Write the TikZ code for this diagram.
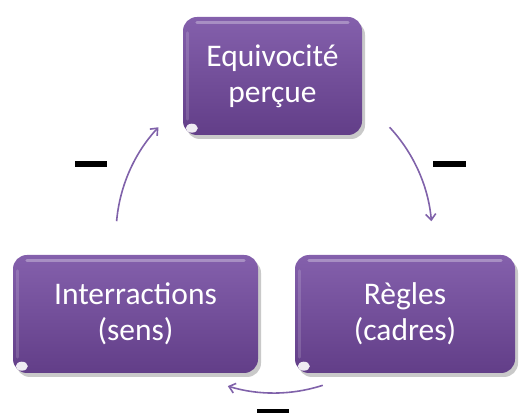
\documentclass[tikz,border=0pt]{standalone}
\usepackage{fontspec}
\setmainfont{Carlito}
\usetikzlibrary{arrows.meta,shadows,calc}
\definecolor{boxtop}{RGB}{132,96,172}
\definecolor{boxbot}{RGB}{98,62,136}
\definecolor{arrowc}{RGB}{128,98,170}
\begin{document}
\begin{tikzpicture}[x=1pt,y=1pt,
  purplebox/.style={rounded corners=14pt, top color=boxtop, bottom color=boxbot,
    draw=none, text=white, align=center, font=\fontsize{31.5}{36}\selectfont, inner sep=0pt,
    drop shadow={shadow xshift=3pt, shadow yshift=-4pt, opacity=0.3, fill=black!70}},
  highlight/.style={draw=white, opacity=0.3, line width=3pt, line cap=round},
  cyclearrow/.style={draw=arrowc, line width=1.6pt, -{Straight Barb[length=6pt,width=10pt]}},
  minusbar/.style={inner sep=0pt, outer sep=0pt}
]
\clip (0,0) rectangle (519,412);
\useasboundingbox (0,0) rectangle (519,412);

\node[purplebox, minimum width=179pt, minimum height=118pt] (eq) at (272.5,336) {Equivocité\\perçue};
\node[purplebox, minimum width=245pt, minimum height=118pt] (inter) at (135.5,98) {Interractions\\(sens)};
\node[purplebox, minimum width=220pt, minimum height=118pt] (regles) at (405,98) {Règles\\(cadres)};

\foreach \b in {eq,inter,regles}{
  \draw[highlight] ([xshift=14pt,yshift=-6pt]\b.north west) -- ([xshift=-14pt,yshift=-6pt]\b.north east);
  \draw[draw=white, opacity=0.15, line width=3pt, line cap=round] ([xshift=5pt,yshift=-16pt]\b.north west) -- ([xshift=5pt,yshift=16pt]\b.south west);
  \fill[white, opacity=0.9] ([xshift=9pt,yshift=7pt]\b.south west) ellipse (6pt and 4.5pt);
}

\coordinate (c) at (274,177);
\coordinate (la) at ($(c)+(175:158)$);
\coordinate (ra) at ($(c)+(43:158)$);
\coordinate (ba) at ($(c)+(-72:158)$);

\draw[cyclearrow] (la) arc[start angle=175, end angle=137, radius=158];
\draw[cyclearrow] (ra) arc[start angle=43, end angle=5, radius=158];
\draw[cyclearrow] (ba) arc[start angle=-72, end angle=-107, radius=158];

\node[minusbar] (m1) at (91,248) {\rule{32pt}{6pt}};
\node[minusbar] (m2) at (449.5,248) {\rule{33pt}{6pt}};
\node[minusbar] (m3) at (273,0) {\rule{32pt}{6pt}};
\end{tikzpicture}
\end{document}
